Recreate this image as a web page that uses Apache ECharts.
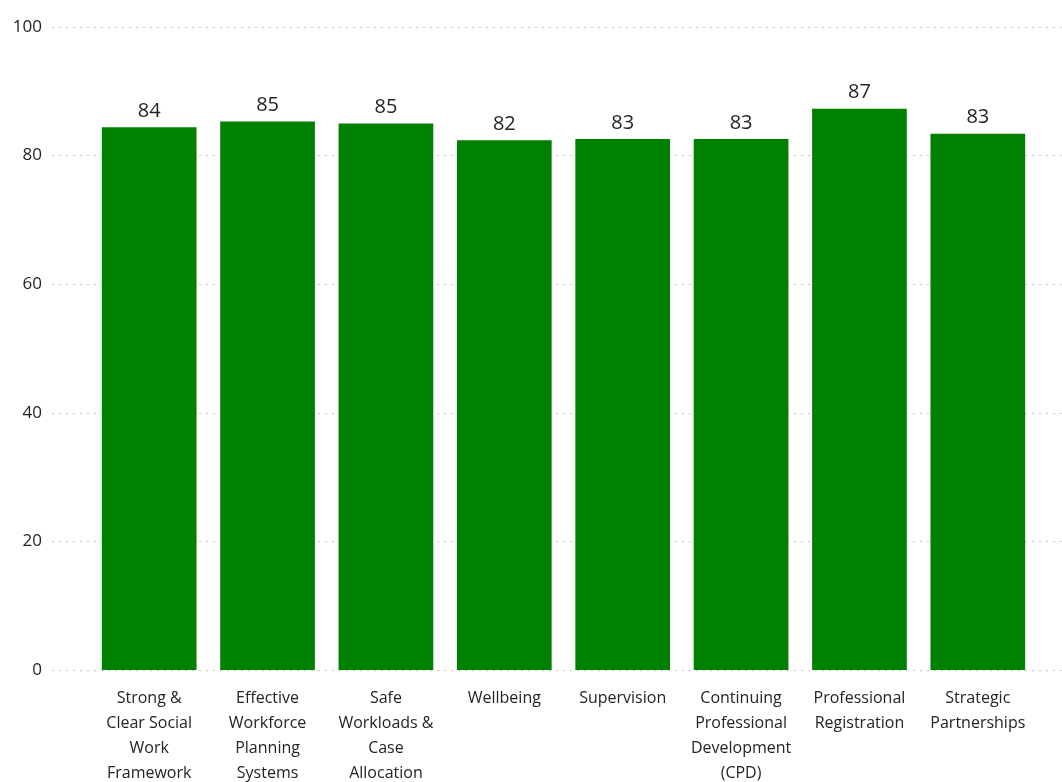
<!DOCTYPE html>
<html>
<head>
<meta charset="utf-8">
<script src="https://cdn.jsdelivr.net/npm/echarts@6/dist/echarts.min.js"></script>
<style>html,body{margin:0;padding:0;background:#fff;}#c{width:1062px;height:782px;}</style>
</head>
<body>
<div id="c"></div>
<script>
const categories = [
  "Strong &\nClear Social\nWork\nFramework",
  "Effective\nWorkforce\nPlanning\nSystems",
  "Safe\nWorkloads &\nCase\nAllocation",
  "Wellbeing",
  "Supervision",
  "Continuing\nProfessional\nDevelopment\n(CPD)",
  "Professional\nRegistration",
  "Strategic\nPartnerships"
];
const scores = [84.4, 85.3, 85.0, 82.4, 82.6, 82.6, 87.3, 83.4];
const yTicks = [0, 20, 40, 60, 80, 100];

const font = "'Open Sans', 'Noto Sans', sans-serif";
const textColor = '#252423';
const chart = echarts.init(document.getElementById('c'));
chart.setOption({
  animation: false,
  backgroundColor: '#ffffff',
  grid: [
    { left: 52, right: 0, top: 27, bottom: 112, outerBoundsMode: 'none', containLabel: false },
    { left: 90, right: 25, top: 27, bottom: 112, outerBoundsMode: 'none', containLabel: false }
  ],
  xAxis: [
    { gridIndex: 0, type: 'value', show: false, min: 0, max: 1 },
    {
      gridIndex: 1, type: 'category', data: categories,
      axisLine: { show: false }, axisTick: { show: false },
      axisLabel: { interval: 0, color: textColor, fontFamily: font, fontSize: 16, lineHeight: 25, margin: 16, verticalAlign: 'top' }
    }
  ],
  yAxis: [
    {
      gridIndex: 0, type: 'value', min: yTicks[0], max: yTicks[yTicks.length - 1], interval: 20,
      axisLine: { show: false }, axisTick: { show: false },
      axisLabel: { color: textColor, fontFamily: font, fontSize: 17, margin: 10 },
      splitLine: { show: true, lineStyle: { color: '#c8c8c8', type: [2, 5], width: 1 } }
    },
    { gridIndex: 1, type: 'value', min: 0, max: 100, show: false, splitLine: { show: false } }
  ],
  series: [{
    type: 'bar',
    xAxisIndex: 1, yAxisIndex: 1,
    data: scores,
    barCategoryGap: '20%',
    itemStyle: { color: '#008000' },
    label: {
      show: true, position: 'top', distance: 6,
      color: textColor, fontFamily: font, fontSize: 20,
      formatter: p => Math.round(p.value)
    }
  }]
});
</script>
</body>
</html>
